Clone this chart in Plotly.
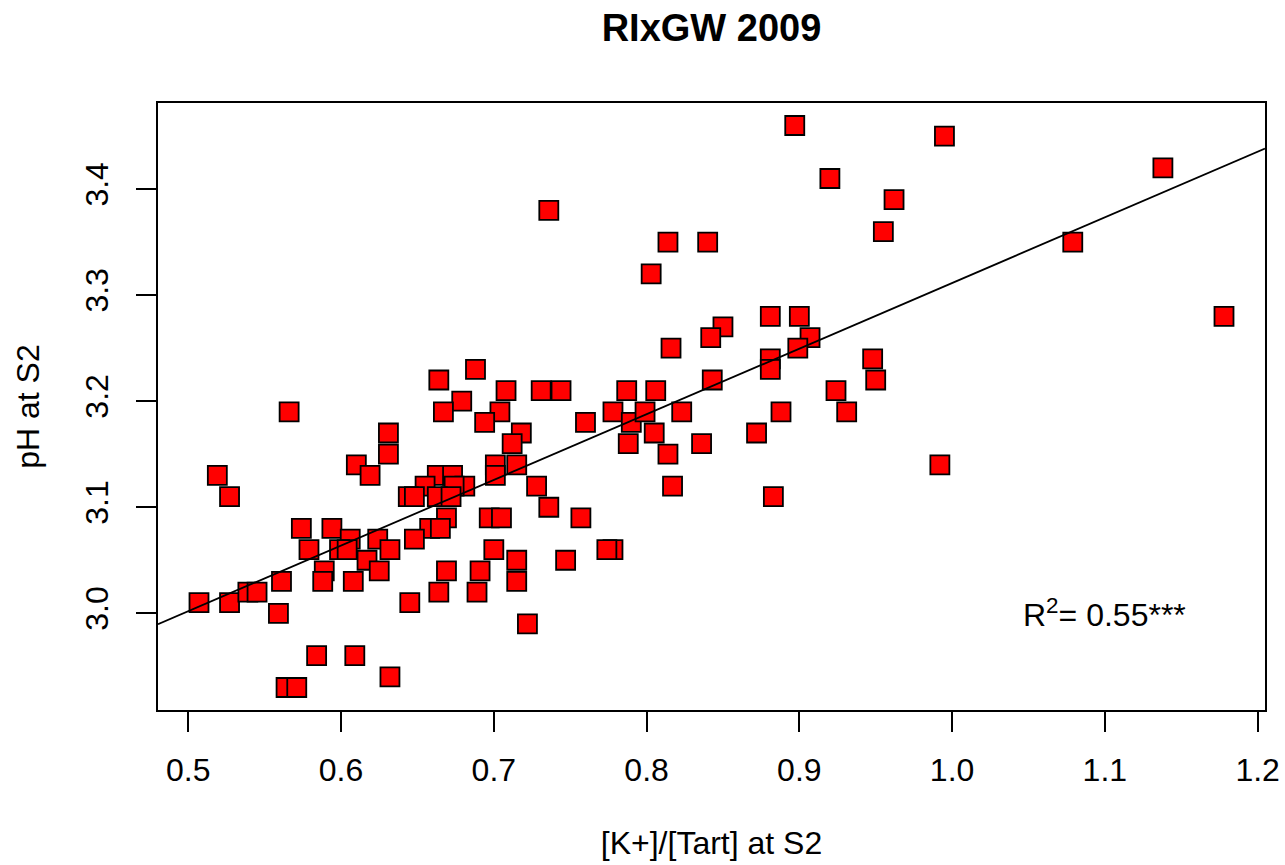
import numpy as np
import plotly.graph_objects as go

# [K+]/[Tart] at S2
k_tart = [
    0.519, 0.527, 0.566, 0.631, 0.631, 0.610, 0.619, 0.574, 0.594, 0.606,
    0.624, 0.579, 0.599, 0.604, 0.617, 0.632, 0.625, 0.589, 0.561, 0.588,
    0.608, 0.507, 0.527, 0.539, 0.545, 0.559, 0.584, 0.609, 0.632, 0.564,
    0.571, 0.688, 0.664, 0.679, 0.708, 0.731, 0.744, 0.787, 0.806, 0.667,
    0.704, 0.694, 0.718, 0.712, 0.760, 0.778, 0.790, 0.788, 0.799, 0.805,
    0.701, 0.701, 0.715, 0.728, 0.736, 0.757, 0.697, 0.705, 0.663, 0.673,
    0.681, 0.655, 0.674, 0.644, 0.648, 0.663, 0.672, 0.669, 0.658, 0.665,
    0.648, 0.700, 0.778, 0.774, 0.715, 0.747, 0.669, 0.691, 0.664, 0.689,
    0.715, 0.645, 0.722, 0.920, 0.962, 0.955, 0.814, 0.840, 0.803, 0.881,
    0.900, 0.850, 0.842, 0.907, 0.816, 0.899, 0.881, 0.881, 0.948, 0.950,
    0.843, 0.924, 0.823, 0.888, 0.931, 0.836, 0.872, 0.814, 0.817, 0.883,
    0.992, 0.995, 1.138, 1.079, 1.178, 0.897, 0.736,
]
# pH at S2
ph = [
    3.13, 3.11, 3.19, 3.17, 3.15, 3.14, 3.13, 3.08, 3.08, 3.07,
    3.07, 3.06, 3.06, 3.06, 3.05, 3.06, 3.04, 3.04, 3.03, 3.03,
    3.03, 3.01, 3.01, 3.02, 3.02, 3.00, 2.96, 2.96, 2.94, 2.93,
    2.93, 3.23, 3.22, 3.20, 3.21, 3.21, 3.21, 3.21, 3.21, 3.19,
    3.19, 3.18, 3.17, 3.16, 3.18, 3.19, 3.18, 3.16, 3.19, 3.17,
    3.14, 3.13, 3.14, 3.12, 3.10, 3.09, 3.09, 3.09, 3.13, 3.13,
    3.12, 3.12, 3.12, 3.11, 3.11, 3.11, 3.11, 3.09, 3.08, 3.08,
    3.07, 3.06, 3.06, 3.06, 3.05, 3.05, 3.04, 3.04, 3.02, 3.02,
    3.03, 3.01, 2.99, 3.41, 3.39, 3.36, 3.35, 3.35, 3.32, 3.28,
    3.28, 3.27, 3.26, 3.26, 3.25, 3.25, 3.24, 3.23, 3.24, 3.22,
    3.22, 3.21, 3.19, 3.19, 3.19, 3.16, 3.17, 3.15, 3.12, 3.11,
    3.14, 3.45, 3.42, 3.35, 3.28, 3.46, 3.38,
]

x_ticks = [0.5, 0.6, 0.7, 0.8, 0.9, 1.0, 1.1, 1.2]
y_ticks = [3.0, 3.1, 3.2, 3.3, 3.4]
title_text = "RIxGW 2009"
x_label = "[K+]/[Tart] at S2"
y_label = "pH at S2"
r2_label = "R<sup>2</sup>= 0.55***"
r2_pos = (1.1, 3.0)

x = np.array(k_tart)
y = np.array(ph)

# R-style 4% axis extension
def r_range(v):
    lo, hi = float(v.min()), float(v.max())
    pad = 0.04 * (hi - lo)
    return [lo - pad, hi + pad]

xr = r_range(x)
yr = r_range(y)

slope, intercept = np.polyfit(x, y, 1)
lx = np.array(xr)
ly = intercept + slope * lx

FONT = "Liberation Sans, Arial, Helvetica, sans-serif"
FS = 32

fig = go.Figure()
fig.add_trace(go.Scatter(
    x=x, y=y, mode="markers",
    marker=dict(symbol="square", size=19, color="#ff0000",
                line=dict(color="black", width=1.8)),
    hoverinfo="skip", showlegend=False,
))
fig.add_trace(go.Scatter(
    x=lx, y=ly, mode="lines",
    line=dict(color="black", width=1.8),
    hoverinfo="skip", showlegend=False,
))

fig.add_annotation(
    x=r2_pos[0], y=r2_pos[1], xref="x", yref="y",
    text=r2_label, showarrow=False,
    font=dict(family=FONT, size=FS, color="black"),
    xanchor="center", yanchor="middle",
)

fig.update_layout(
    width=1285, height=865,
    margin=dict(l=158, r=20, t=103, b=155, autoexpand=False),
    paper_bgcolor="white", plot_bgcolor="white",
    title=dict(text="<b>" + title_text + "</b>", x=(158 + 1265) / 2 / 1285,
               xanchor="center", y=1 - 28 / 865, yanchor="middle",
               font=dict(family=FONT, size=38, color="black")),
    font=dict(family=FONT, color="black"),
)
fig.update_xaxes(
    range=xr, tickmode="array", tickvals=x_ticks,
    ticktext=[f"{v:.1f}" for v in x_ticks],
    ticks="outside", ticklen=20, tickwidth=1.8, tickcolor="black",
    showline=True, linecolor="black", linewidth=1.8, mirror=True,
    showgrid=False, zeroline=False, automargin=False,
    tickfont=dict(family=FONT, size=FS, color="black"),
    ticklabelstandoff=11,
    title=dict(text=x_label, font=dict(family=FONT, size=FS, color="black"),
               standoff=44),
)
fig.update_yaxes(
    range=yr, tickmode="array", tickvals=y_ticks,
    ticktext=[f"{v:.1f}" for v in y_ticks],
    ticks="outside", ticklen=20, tickwidth=1.8, tickcolor="black",
    showline=True, linecolor="black", linewidth=1.8, mirror=True,
    showgrid=False, zeroline=False, tickangle=-90, automargin=False,
    tickfont=dict(family=FONT, size=FS, color="black"),
    ticklabelstandoff=15,
    title=dict(text=y_label, font=dict(family=FONT, size=FS, color="black"),
               standoff=30),
)

fig.write_html("out.html")
